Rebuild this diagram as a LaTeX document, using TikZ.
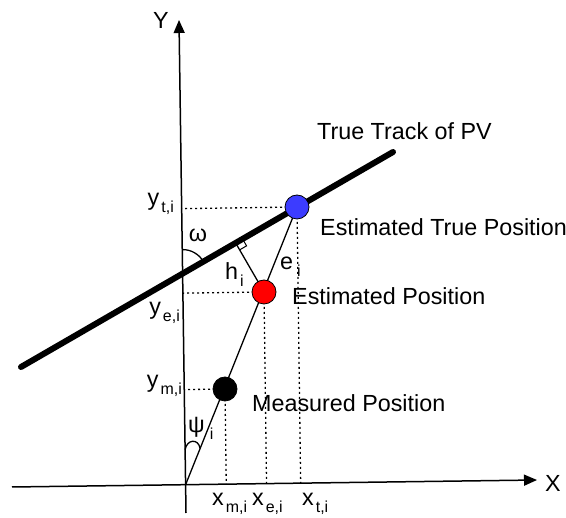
\documentclass[tikz,border=0pt]{standalone}
\usepackage{fontspec}
\setmainfont{Liberation Sans}
\usepackage{xcolor}
\usepackage{tikz}
\usetikzlibrary{arrows.meta, positioning, calc}

\definecolor{ptblue}{RGB}{60,60,255}
\definecolor{ptred}{RGB}{255,0,0}
\newcommand{\lab}[3][2bp]{#2\kern#1\raisebox{-7bp}{\fontsize{16}{16}\selectfont #3}}

\begin{document}
\begin{tikzpicture}[x=1bp, y=1bp, font=\fontsize{23.4}{27}\selectfont]
    \tikzstyle{axis} = [line width=1.5bp, -{Triangle[length=13bp, width=11bp]}]
    \tikzstyle{guide} = [line width=1.3bp, dash pattern=on 2bp off 3bp]
    \tikzstyle{thin} = [line width=1.3bp]
    \tikzstyle{point} = [circle, draw, line width=0.8bp, minimum size=24bp, inner sep=0pt]
    \tikzstyle{txt} = [inner sep=0pt, anchor=base west]

    \clip (0,0) rectangle (566,518);

    % axes
    \coordinate (xs) at (12,31);
    \coordinate (xe) at (537,38);
    \coordinate (ys) at (186,5);
    \coordinate (ye) at (179,498);
    \coordinate (o) at (intersection of xs--xe and ys--ye);
    \draw[axis] (xs) -- (xe);
    \draw[axis] (ys) -- (ye);
    \node (xlab) at (553,35) {X};
    \node (ylab) at (161,498) {Y};

    % track and positions
    \coordinate (ta) at (21,151);
    \coordinate (tb) at (393,366);
    \coordinate (w) at (intersection of ta--tb and ys--ye);
    \coordinate (t) at (297,311);
    \coordinate (e) at (264,226);
    \coordinate (m) at (225,129);
    \coordinate (f) at ($(ta)!(e)!(tb)$);

    \draw[guide] (t) -- ($(ys)!(t)!(ye)$);
    \draw[guide] (e) -- ($(ys)!(e)!(ye)$);
    \draw[guide] (m) -- ($(ys)!(m)!(ye)$);
    \draw[guide] (t) -- ($(xs)!(t)!(xe)$);
    \draw[guide] (e) -- ($(xs)!(e)!(xe)$);
    \draw[guide] (m) -- ($(xs)!(m)!(xe)$);

    \draw[thin] (o) -- (t);
    \draw[thin] (e) -- (f);
    \coordinate (ra) at ($(f)!8bp!(e)$);
    \coordinate (rb) at ($(f)!8bp!(tb)$);
    \draw[line width=1bp] (ra) -- ($(ra)+(rb)-(f)$) -- (rb);
    \draw[line width=6bp, line cap=round] (ta) -- (tb);

    % angles
    \draw[thin] ($(w)+(90:24bp)$) arc[start angle=90, end angle=30, radius=24bp];
    \draw[thin] ($(o)!35bp!(ye)$) to[out=80, in=100, looseness=1.8] ($(o)!39bp!(t)$);

    \node[point, fill=ptblue] (tpos) at (t) {};
    \node[point, fill=ptred] (epos) at (e) {};
    \node[point, fill=black] (mpos) at (m) {};

    % labels
    \node[txt, anchor=base east] (ylt) at (174,312.5) {\lab{y}{t,i}};
    \node[txt, anchor=base east] (yle) at (180,203.5) {\lab{y}{e,i}};
    \node[txt, anchor=base east] (ylm) at (182,130) {\lab{y}{m,i}};
    \node[txt] (xlm) at (212,12) {\lab{x}{m,i}};
    \node[txt] (xle) at (252,12) {\lab{x}{e,i}};
    \node[txt] (xlt) at (302,12) {\lab{x}{t,i}};
    \node (omega) at (198,283) {ω};
    \node[txt] (hlab) at (225,238) {\lab{h}{i}};
    \node[txt] (elab) at (280,248) {\lab[4bp]{e}{i}};
    \node[txt] (psilab) at (188,85) {\lab[5bp]{ψ}{i}};

    \node[txt] (track) at (317,378) {True Track of PV};
    \node[txt] (tlab) at (320,282) {Estimated True Position};
    \node[txt] (elabel) at (292,213) {Estimated Position};
    \node[txt] (mlab) at (252,106) {Measured Position};
\end{tikzpicture}
\end{document}
